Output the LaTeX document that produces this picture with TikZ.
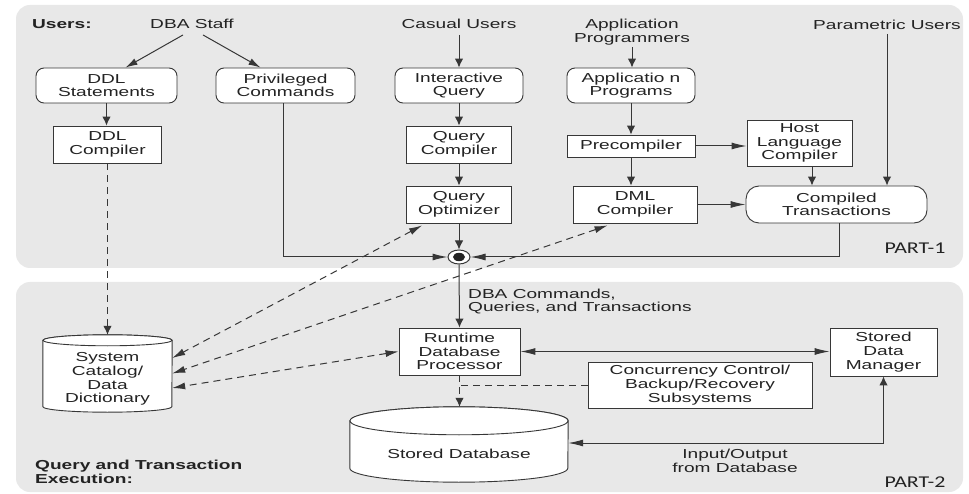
\documentclass[tikz,border=0pt]{standalone}
\usepackage{fontspec}
\setmainfont{Liberation Sans}[FakeStretch=1.47]
\newfontfamily\partfont{Carlito}[FakeStretch=1.33]
\usetikzlibrary{arrows.meta,shapes.geometric}
\definecolor{panelgray}{RGB}{232,232,232}
\definecolor{ink}{RGB}{35,35,35}
\definecolor{wire}{RGB}{55,55,55}
\tikzset{
  txt/.style={inner sep=0pt, align=center, text=ink,
    font=\fontsize{13}{13.7}\selectfont},
  head/.style={inner sep=0pt, align=left, text=ink,
    font=\fontsize{13}{13.7}\selectfont\bfseries},
  partlbl/.style={inner sep=0pt, text=ink,
    font=\partfont\fontsize{16.5}{18}\selectfont},
  dims/.style 2 args={minimum width=#1pt, minimum height=#2pt},
  sbox/.style={txt, draw=wire, line width=0.9pt, fill=white},
  rbox/.style={sbox, rounded corners=8pt},
  cylbody/.style={draw=wire, line width=0.9pt, fill=white},
  conn/.style={draw=wire, line width=1pt},
  dsh/.style={conn, dash pattern=on 7pt off 5pt},
  vhd/.style={-{Latex[length=9pt,width=8.5pt]}},
  hhd/.style={-{Latex[length=15pt,width=7pt]}},
  dhd/.style={-{Latex[length=12pt,width=7pt]}},
  hboth/.style={{Latex[length=15pt,width=7pt]}-{Latex[length=15pt,width=7pt]}},
  dboth/.style={{Latex[length=13pt,width=7pt]}-{Latex[length=13pt,width=7pt]}},
  hvboth/.style={{Latex[length=15pt,width=7pt]}-{Latex[length=9pt,width=8.5pt]}},
}
\begin{document}
\begin{tikzpicture}[x=1pt,y=-1pt]
\useasboundingbox[fill=white] (0,0) rectangle (969,494);

% the two shaded parts
\fill[panelgray, rounded corners=14pt] (16,5) rectangle (963,268);
\fill[panelgray, rounded corners=14pt] (16,282) rectangle (963,492);

% ---------- part 1: users and compilers ----------
\node[head, anchor=west] (users) at (32,24) {Users:};
\node[txt] (dba) at (192,24) {DBA Staff};
\node[txt] (casual) at (459,24) {Casual Users};
\node[txt] (appprog) at (632,32) {Application\\Programmers};
\node[txt] (param) at (887,25) {Parametric Users};

\node[rbox, dims={141}{35}] (ddlst) at (106.5,85.5) {DDL\\Statements};
\node[rbox, dims={139}{35}] (priv) at (285.5,85.5) {Privileged\\Commands};
\node[sbox, dims={108}{37}] (ddlc) at (107.5,144.5) {DDL\\Compiler};
\node[rbox, dims={128}{35}] (iq) at (459,85.5) {Interactive\\Query};
\node[sbox, dims={105}{37}] (qc) at (459,144.5) {Query\\Compiler};
\node[sbox, dims={105}{37}] (qo) at (459,204.5) {Query\\Optimizer};
\node[rbox, dims={128}{35}] (ap) at (631,85.5) {Applicatio n\\Programs};
\node[sbox, dims={128}{22}] (pre) at (631,146) {Precompiler};
\node[sbox, dims={124}{37}] (dml) at (635,204.5) {DML\\Compiler};
\node[sbox, dims={105}{46}] (hlc) at (799.5,143) {Host\\Language\\Compiler};
\node[rbox, rounded corners=13pt, dims={181}{37}] (ct) at (836.5,204.5) {Compiled\\Transactions};

% junction where all requests meet
\node[ellipse, draw=wire, fill=white, line width=1pt, minimum width=22pt,
      minimum height=14pt, inner sep=0pt] (jn) at (459,257) {};
\fill[ink] (jn.center) ellipse [x radius=6, y radius=4.2];

\node[partlbl] (p1) at (915,248) {PART-1};

% ---------- part 2: query and transaction execution ----------
\node[txt, anchor=west, align=left] (dbacmd) at (468,301.5) {DBA Commands,\\Queries, and Transactions};
\node[sbox, dims={121}{47}] (rt) at (459.5,351.5) {Runtime\\Database\\Processor};
\node[sbox, dims={107}{48}] (sdm) at (883.5,352) {Stored\\Data\\Manager};
\node[sbox, dims={224}{46}] (cc) at (700,385) {Concurrency Control/\\Backup/Recovery\\Subsystems};

% system catalog cylinder
\node[inner sep=0pt, dims={129}{77}] (sc) at (107.5,373.5) {};
\draw[cylbody] ([yshift=-5.5pt]sc.north west) -- ([yshift=5.5pt]sc.south west)
  arc [start angle=180, end angle=0, x radius=64.5, y radius=5.5]
  -- ([yshift=-5.5pt]sc.north east)
  arc [start angle=0, end angle=-180, x radius=64.5, y radius=5.5] -- cycle;
\draw[cylbody] ([yshift=-5.5pt]sc.north) ellipse [x radius=64.5, y radius=5.5];
\node[txt] (sctext) at (107.5,379) {System\\Catalog/\\Data\\Dictionary};

% stored database cylinder
\node[inner sep=0pt, dims={218}{75}] (sdb) at (459,444.5) {};
\draw[cylbody] ([yshift=-14pt]sdb.north west) -- ([yshift=14pt]sdb.south west)
  arc [start angle=180, end angle=0, x radius=109, y radius=14]
  -- ([yshift=-14pt]sdb.north east)
  arc [start angle=0, end angle=-180, x radius=109, y radius=14] -- cycle;
\draw[cylbody] ([yshift=-14pt]sdb.north) ellipse [x radius=109, y radius=14];
\node[txt] (sdbtext) at (459,454) {Stored Database};

\node[txt] (io) at (735,461) {Input/Output\\from Database};
\node[head, anchor=west] (qte) at (35,472) {Query and Transaction\\Execution:};
\node[partlbl] (p2) at (915,482) {PART-2};

% ---------- connectors ----------
\draw[conn, dhd] ([xshift=-9pt,yshift=-6pt]dba.south) -- ([xshift=19pt]ddlst.north);
\draw[conn, dhd] ([xshift=11pt,yshift=-6pt]dba.south) -- ([xshift=-25pt]priv.north);
\draw[conn, vhd] (ddlst.south) -- (ddlst.south |- ddlc.north);
\draw[dsh, vhd] (ddlc.south) -- (ddlc.south |- sc.north);
\draw[conn, hhd] ([xshift=-2pt]priv.south) |- (jn.west);

\draw[conn, vhd] ([yshift=-6pt]casual.south) -- (iq.north);
\draw[conn, vhd] (iq.south) -- (qc.north);
\draw[conn, vhd] (qc.south) -- (qo.north);
\draw[conn, vhd] (qo.south) -- (jn.north);

\draw[conn, vhd] ([yshift=-2pt]appprog.south) -- (appprog.south |- ap.north);
\draw[conn, vhd] (ap.south) -- (pre.north);
\draw[conn, vhd] (pre.south) -- (pre.south |- dml.north);
\draw[conn, hhd] (pre.east) -- (pre.east -| hlc.west);
\draw[conn, vhd] ([xshift=12.5pt]hlc.south) -- ([xshift=12.5pt]hlc.south |- ct.north);
\draw[conn, vhd] ([yshift=-4pt]param.south) -- (param.south |- ct.north);
\draw[conn, hhd] (dml.east) -- (dml.east -| ct.west);
\draw[conn, hhd] ([xshift=3pt]ct.south) |- (jn.east);

\draw[conn, vhd] (jn.south) -- (rt.north);

\draw[dsh, dboth] ([xshift=16pt,yshift=-2pt]qo.south west) -- ([yshift=15.5pt]sc.east);
\draw[dsh, dboth] ([xshift=35pt,yshift=-2pt]dml.south west) -- (sc.east);
\draw[dsh, dboth] (rt.west) -- ([yshift=-14.5pt]sc.east);

\draw[dsh, vhd] (rt.south) -- (rt.south |- sdb.north);
\draw[dsh] (cc.west) -- (cc.west -| rt.south);
\draw[conn, hboth] (rt.east) -- (rt.east -| sdm.west);
\draw[conn, hvboth] ([yshift=1.5pt]sdb.east) -| (sdm.south);
\end{tikzpicture}
\end{document}
